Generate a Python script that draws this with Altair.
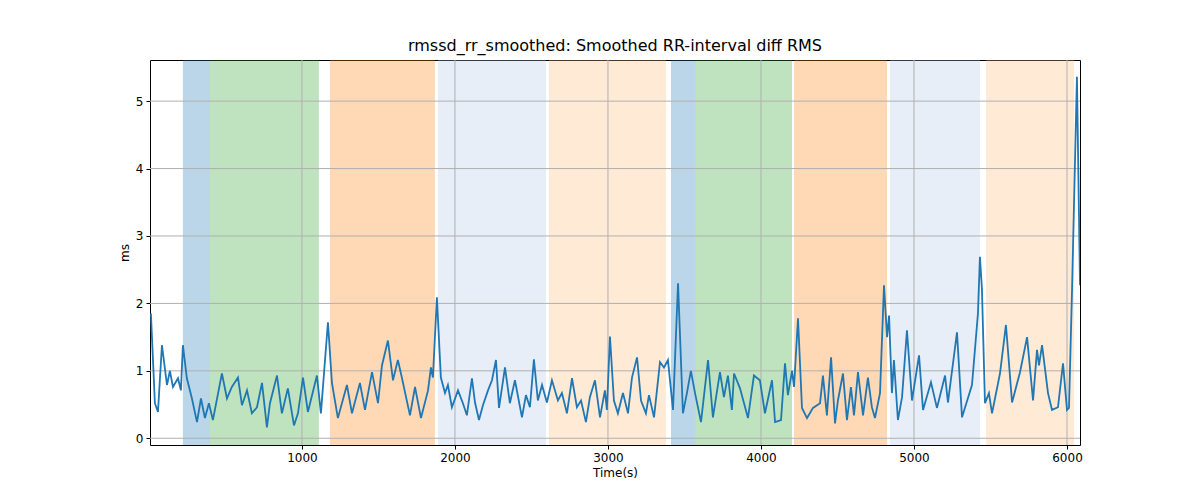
import pandas as pd
import altair as alt

# time (s) and smoothed rmssd (ms)
times = [13, 39, 59, 85, 118, 137, 157, 190, 209, 222, 248, 281, 314, 340, 366, 392, 418, 477, 510, 542,
         582, 608, 641, 673, 706, 739, 771, 791, 837, 869, 908, 948, 974, 1007, 1039, 1098, 1124, 1170, 1196, 1235,
         1294, 1327, 1379, 1412, 1458, 1497, 1523, 1562, 1595, 1627, 1654, 1706, 1739, 1778, 1824, 1843, 1856, 1882, 1908, 1935,
         1954, 1980, 2020, 2052, 2078, 2111, 2131, 2157, 2183, 2216, 2242, 2268, 2288, 2327, 2359, 2392, 2438, 2464, 2490, 2516,
         2542, 2569, 2601, 2634, 2673, 2699, 2732, 2765, 2797, 2824, 2856, 2882, 2915, 2948, 2980, 2993, 3013, 3039, 3065, 3098,
         3131, 3157, 3190, 3216, 3248, 3268, 3301, 3340, 3366, 3392, 3425, 3458, 3490, 3516, 3542, 3569, 3608, 3654, 3686, 3732,
         3758, 3784, 3810, 3824, 3863, 3915, 3954, 3993, 4026, 4072, 4092, 4131, 4157, 4176, 4203, 4216, 4242, 4268, 4301, 4340,
         4386, 4405, 4431, 4458, 4484, 4503, 4536, 4562, 4588, 4608, 4634, 4667, 4699, 4725, 4745, 4778, 4804, 4824, 4837, 4856,
         4869, 4895, 4922, 4954, 4987, 5033, 5059, 5111, 5150, 5203, 5222, 5281, 5314, 5379, 5418, 5431, 5444, 5464, 5490, 5510,
         5562, 5601, 5641, 5693, 5739, 5778, 5804, 5817, 5837, 5876, 5902, 5941, 5974, 6000, 6013, 6033, 6065, 6085]
values = [1.85, 0.52, 0.39, 1.38, 0.79, 1.0, 0.76, 0.89, 0.71, 1.38, 0.89, 0.59, 0.24, 0.59, 0.30, 0.52, 0.27, 0.96, 0.59, 0.76,
          0.90, 0.49, 0.71, 0.37, 0.46, 0.82, 0.16, 0.52, 0.93, 0.37, 0.74, 0.19, 0.37, 0.90, 0.39, 0.93, 0.37, 1.72, 0.82, 0.30,
          0.79, 0.37, 0.82, 0.42, 0.98, 0.52, 1.08, 1.45, 0.86, 1.16, 0.89, 0.34, 0.76, 0.30, 0.71, 1.05, 0.90, 2.09, 0.90, 0.67,
          0.79, 0.46, 0.71, 0.52, 0.34, 0.89, 0.53, 0.27, 0.49, 0.71, 0.86, 1.16, 0.45, 1.05, 0.52, 0.86, 0.31, 0.64, 0.46, 1.17,
          0.56, 0.79, 0.53, 0.86, 0.56, 0.67, 0.37, 0.89, 0.46, 0.56, 0.24, 0.61, 0.86, 0.31, 0.71, 0.42, 1.51, 0.56, 0.37, 0.67,
          0.37, 0.90, 1.20, 0.56, 0.37, 0.64, 0.31, 1.13, 1.05, 1.16, 0.42, 2.30, 0.37, 0.67, 1.0, 0.67, 0.24, 1.16, 0.31, 0.98,
          0.61, 0.93, 0.42, 0.96, 0.74, 0.30, 0.93, 0.86, 0.37, 0.86, 0.24, 0.27, 1.11, 0.64, 1.0, 0.76, 1.78, 0.45, 0.30, 0.45,
          0.52, 0.93, 0.34, 1.20, 0.22, 0.56, 0.96, 0.27, 0.76, 0.34, 0.98, 0.34, 0.90, 0.46, 0.30, 0.67, 2.27, 1.50, 1.82, 0.67,
          1.16, 0.27, 0.61, 1.60, 0.56, 1.23, 0.42, 0.83, 0.45, 0.93, 0.53, 1.57, 0.31, 0.79, 1.85, 2.69, 2.22, 0.52, 0.67, 0.37,
          0.96, 1.68, 0.53, 0.98, 1.50, 0.56, 1.31, 1.08, 1.38, 0.67, 0.42, 0.46, 1.11, 0.42, 0.45, 2.20, 5.36, 2.27]

# shaded segments
seg_start = [222, 399, 1183, 1889, 2614, 3412, 3569, 4216, 4843, 5471]
seg_end = [399, 1111, 1869, 2595, 3379, 3569, 4203, 4824, 5431, 6046]
seg_kind = ["a", "b", "c", "d", "e", "a", "b", "c", "d", "e"]
kind_colors = ["#1f77b4", "#2ca02c", "#ff7f0e", "#aec7e8", "#ffbb78"]

x_ticks = [1000, 2000, 3000, 4000, 5000, 6000]
y_ticks = [0, 1, 2, 3, 4, 5]
x_dom = [7, 6085]
y_dom = [-0.1, 5.61]

df = pd.DataFrame({"t": times, "v": values})
segs = pd.DataFrame({"start": seg_start, "end": seg_end, "kind": seg_kind})

xs = alt.Scale(domain=x_dom, nice=False, zero=False)
ys = alt.Scale(domain=y_dom, nice=False, zero=False)
x_axis = alt.Axis(values=x_ticks, grid=False, title="Time(s)", format="d")
y_axis = alt.Axis(values=y_ticks, grid=False, title="ms")

bands = alt.Chart(segs).mark_rect(opacity=0.3).encode(
    x=alt.X("start:Q", scale=xs, axis=x_axis),
    x2="end:Q",
    y=alt.value(0), y2=alt.value(385),
    color=alt.Color("kind:N", scale=alt.Scale(domain=["a", "b", "c", "d", "e"], range=kind_colors), legend=None),
)

gx = alt.Chart(pd.DataFrame({"g": x_ticks})).mark_rule(color="#b0b0b0", strokeWidth=1).encode(
    x=alt.X("g:Q", scale=xs, axis=x_axis), y=alt.value(0), y2=alt.value(385))
gy = alt.Chart(pd.DataFrame({"g": y_ticks})).mark_rule(color="#b0b0b0", strokeWidth=1).encode(
    y=alt.Y("g:Q", scale=ys, axis=y_axis), x=alt.value(0), x2=alt.value(930))

line = alt.Chart(df).mark_line(color="#1f77b4", strokeWidth=1.8, clip=True).encode(
    x=alt.X("t:Q", scale=xs, axis=x_axis),
    y=alt.Y("v:Q", scale=ys, axis=y_axis),
)

chart = alt.layer(bands, gx, gy, line).properties(
    width=930, height=385,
    title="rmssd_rr_smoothed: Smoothed RR-interval diff RMS",
    autosize=alt.AutoSizeParams(type="none"),
    padding={"left": 142, "top": 52, "right": 100, "bottom": 50},
).configure(font="DejaVu Sans").configure_view(stroke="black", strokeWidth=1).configure_axis(
    domain=False, tickColor="black", tickSize=4, labelFontSize=12, titleFontSize=12,
    labelColor="black", titleColor="black", titleFontWeight="normal", labelPadding=3,
).configure_title(fontSize=16, fontWeight="normal", offset=6)

chart.save("out.html", embed_options={"renderer": "svg", "actions": False})
